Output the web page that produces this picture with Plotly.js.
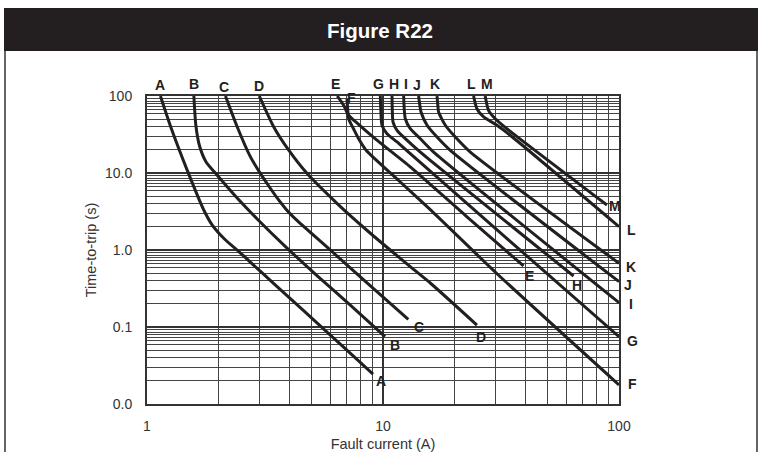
<!DOCTYPE html>
<html>
<head>
<meta charset="utf-8">
<script src="https://cdn.plot.ly/plotly-3.0.1.min.js"></script>
<style>
html,body{margin:0;padding:0;background:#ffffff;}
#chart{width:760px;height:452px;}
</style>
</head>
<body>
<div id="chart"></div>
<script>
// ---------------- data ----------------
const chartTitle = 'Figure R22';
const xTitle = 'Fault current (A)';
const yTitle = 'Time-to-trip (s)';

const xTickVals = [1, 10, 100];
const xTickText = ['1', '10', '100'];
const yTickVals = [0.01, 0.1, 1, 10, 100];
const yTickText = ['0.0', '0.1', '1.0', '10.0', '100'];

const curveNames = ['A','B','C','D','E','F','G','H','I','J','K','L','M'];

// fault current (A) and time-to-trip (s) for each curve
const currentA = [1.14, 1.26, 1.48, 1.74, 1.89, 2.13, 2.49, 3.02, 4.05, 5.25, 6.81, 9.07];
const timeA    = [100, 39.9, 10.9, 3.31, 2.11, 1.39, 0.914, 0.53, 0.234, 0.113, 0.0547, 0.0245];

const currentB = [1.58, 1.61, 1.67, 1.78, 1.98, 2.41, 2.93, 3.92, 5.25, 7.27, 10.2];
const timeB    = [100, 42.0, 22.4, 13.9, 9.42, 4.73, 2.53, 1.06, 0.466, 0.193, 0.0748];

const currentC = [2.15, 2.41, 2.74, 3.02, 3.27, 3.56, 3.89, 4.32, 5.98, 8.28, 12.8];
const timeC    = [100, 39.9, 16.3, 9.9, 6.88, 4.74, 3.36, 2.42, 1.0, 0.408, 0.126];

const currentD = [2.99, 3.44, 3.98, 4.76, 6.38, 8.84, 13.05, 15.9, 25.0];
const timeD    = [100, 39.9, 19.9, 9.9, 4.04, 1.65, 0.607, 0.37, 0.106];

const currentE = [6.40, 6.81, 7.15, 7.71, 9.28, 13.05, 22.5, 39.4];
const timeE    = [100, 75.7, 56.2, 45.3, 27.7, 12.0, 2.76, 0.62];

const currentF = [7.04, 7.09, 7.16, 7.51, 7.94, 8.50, 11.84, 15.9, 30.5, 100];
const timeF    = [91.4, 65.8, 50.2, 37.3, 26.8, 19.6, 7.64, 3.31, 0.488, 0.0177];

const currentG = [9.74, 9.79, 9.90, 10.4, 11.47, 13.05, 100];
const timeG    = [100, 65.8, 41.7, 32.4, 25.3, 17.8, 0.0748];

const currentH = [10.92, 10.95, 11.03, 11.47, 12.43, 14.39, 64.2];
const timeH    = [100, 65.8, 45.9, 35.8, 27.9, 18.7, 0.459];

const currentI = [12.23, 12.31, 12.43, 13.05, 14.39, 16.39, 100];
const timeI    = [100, 65.8, 50.7, 37.6, 27.9, 18.7, 0.207];

const currentJ = [14.15, 14.32, 14.49, 15.37, 16.94, 19.28, 100];
const timeJ    = [100, 76.4, 61.9, 41.7, 29.3, 19.7, 0.388];

const currentK = [16.94, 17.07, 17.20, 18.37, 20.25, 23.44, 100];
const timeK    = [100, 76.4, 61.9, 41.7, 29.3, 18.7, 0.672];

const currentL = [24.2, 25.0, 26.7, 30.4, 34.6, 100];
const timeL    = [100, 68.4, 53.4, 41.7, 30.9, 2.01];

const currentM = [27.1, 28.0, 29.9, 33.5, 88.9];
const timeM    = [100, 65.2, 50.7, 37.6, 3.84];

// ---------------- layout / style ----------------
const W = 760, H = 452;
const M = {l: 147, r: 141, t: 96, b: 48};
const px2x = px => (px - M.l) / (W - M.l - M.r);
const px2y = py => (H - M.b - py) / (H - M.t - M.b);

const INK = '#231f20';
const labelFont = {family: '"Liberation Sans", Arial, sans-serif', size: 14, color: INK, weight: 'bold'};
const axisFont = {family: '"Liberation Sans", Arial, sans-serif', size: 14, color: '#333333'};

const curves = [
  [currentA, timeA], [currentB, timeB], [currentC, timeC], [currentD, timeD],
  [currentE, timeE], [currentF, timeF], [currentG, timeG], [currentH, timeH],
  [currentI, timeI], [currentJ, timeJ], [currentK, timeK], [currentL, timeL],
  [currentM, timeM]
];

// label offsets in pixels [xshift, yshift]
const topOffsets = {A:[0,11],B:[0,12],C:[-1,9],D:[0,10],E:[-2,12],F:[4,1],G:[-2,12],
                    H:[2,12],I:[2,12],J:[-2,11],K:[-2,12],L:[-2,12],M:[2,12]};
const endOffsets = {A:[8,-7],B:[10,-8],C:[11,-8],D:[4,-12],E:[6,-10],F:[13,1],G:[13,-4],
                    H:[3,-9],I:[12,-1],J:[9,-3],K:[12,-4],L:[12,-3],M:[8,-1]};

const traces = curves.map((c, i) => ({
  type: 'scatter', mode: 'lines', name: curveNames[i],
  x: c[0], y: c[1],
  line: {color: INK, width: 3, shape: 'spline', smoothing: 0.6},
  hoverinfo: 'skip', showlegend: false
}));

const annotations = [];
curves.forEach((c, i) => {
  const n = curveNames[i];
  const I = c[0], T = c[1];
  annotations.push({x: Math.log10(I[0]), y: Math.log10(T[0]), xref: 'x', yref: 'y',
    text: n, showarrow: false, font: labelFont, xanchor: 'center', yanchor: 'middle',
    xshift: topOffsets[n][0], yshift: topOffsets[n][1]});
  const k = I.length - 1;
  annotations.push({x: Math.log10(I[k]), y: Math.log10(T[k]), xref: 'x', yref: 'y',
    text: n, showarrow: false, font: labelFont, xanchor: 'center', yanchor: 'middle',
    xshift: endOffsets[n][0], yshift: endOffsets[n][1]});
});

// grid positions
const xMinor = [];
[1, 10].forEach(d => [2,3,4,5,6,7,8,9].forEach(m => xMinor.push(d * m)));
const yMinor = [];
[0.01, 0.1, 1, 10].forEach(d => [2,3,4,5,6,6.7,7.3,7.9,8.5,9.2].forEach(m => yMinor.push(d * m)));

const shapes = [
  {type: 'rect', xref: 'paper', yref: 'paper', x0: px2x(4), x1: px2x(758), y0: px2y(8), y1: px2y(51),
   fillcolor: INK, line: {width: 0}, layer: 'above'},
  {type: 'line', xref: 'paper', yref: 'paper', x0: px2x(5), x1: px2x(5), y0: px2y(51), y1: px2y(452),
   line: {color: '#333', width: 1.5}},
  {type: 'line', xref: 'paper', yref: 'paper', x0: px2x(757), x1: px2x(757), y0: px2y(51), y1: px2y(452),
   line: {color: '#333', width: 1.5}}
];

const layout = {
  width: W, height: H,
  margin: M,
  paper_bgcolor: '#ffffff', plot_bgcolor: '#ffffff',
  showlegend: false,
  title: {text: chartTitle, x: 0.5, xref: 'container', xanchor: 'center',
          y: 1 - 31 / H, yref: 'container', yanchor: 'middle',
          font: {family: '"Liberation Sans", Arial, sans-serif',
                 size: 20.5, color: '#ffffff', weight: 'bold'}},
  xaxis: {
    type: 'log', range: [0, 2], fixedrange: true,
    tickmode: 'array', tickvals: xTickVals, ticktext: xTickText,
    ticks: '', tickfont: axisFont, ticklabelstandoff: 8,
    showgrid: true, gridcolor: '#333', gridwidth: 1.5,
    minor: {tickmode: 'array', tickvals: xMinor, showgrid: true, gridcolor: '#444', gridwidth: 1, ticks: ''},
    showline: true, linecolor: '#333', linewidth: 2, mirror: true, zeroline: false,
    title: {text: xTitle, font: {family: axisFont.family, size: 14.5, color: '#333'}, standoff: 10}
  },
  yaxis: {
    type: 'log', range: [-2, 2], fixedrange: true,
    tickmode: 'array', tickvals: yTickVals, ticktext: yTickText,
    ticks: '', tickfont: axisFont, ticklabelstandoff: 10,
    showgrid: true, gridcolor: '#333', gridwidth: 1.5,
    minor: {tickmode: 'array', tickvals: yMinor, showgrid: true, gridcolor: '#444', gridwidth: 1, ticks: ''},
    showline: true, linecolor: '#333', linewidth: 2, mirror: true, zeroline: false,
    title: {text: yTitle, font: {family: axisFont.family, size: 14.5, color: '#333'}, standoff: 5}
  },
  annotations: annotations,
  shapes: shapes
};

Plotly.newPlot('chart', traces, layout, {displayModeBar: false, staticPlot: true});
</script>
</body>
</html>
